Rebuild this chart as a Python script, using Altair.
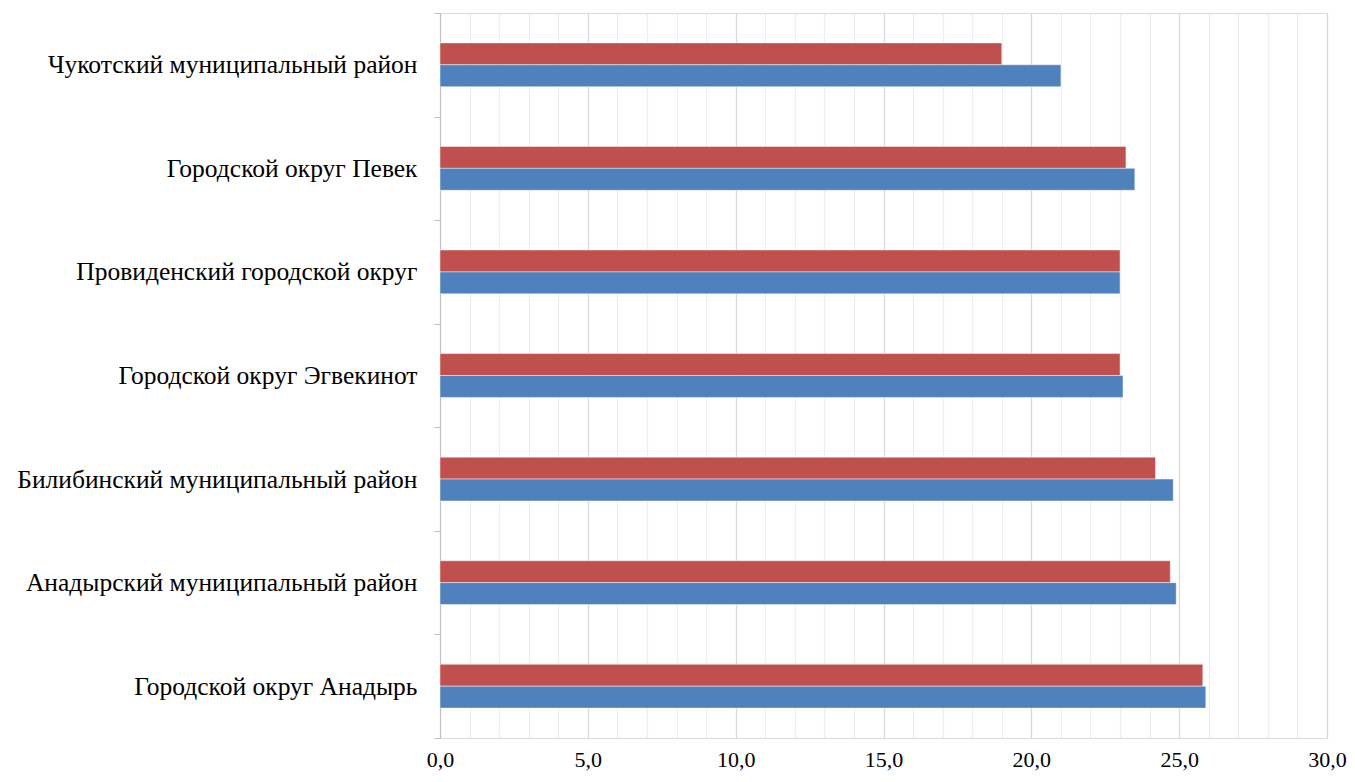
import altair as alt
import pandas as pd

categories = [
    "Чукотский муниципальный район",
    "Городской округ Певек",
    "Провиденский городской округ",
    "Городской округ Эгвекинот",
    "Билибинский муниципальный район",
    "Анадырский муниципальный район",
    "Городской округ Анадырь",
]
series_names = ["Ряд 2", "Ряд 1"]  # red (top), blue (bottom)
red_values = [19.0, 23.2, 23.0, 23.0, 24.2, 24.7, 25.8]
blue_values = [21.0, 23.5, 23.0, 23.1, 24.8, 24.9, 25.9]
colors = ["#C0504D", "#4F81BD"]
x_ticks = list(range(0, 31))

rows = []
for c, r, b in zip(categories, red_values, blue_values):
    rows.append({"category": c, "series": series_names[0], "value": r})
    rows.append({"category": c, "series": series_names[1], "value": b})
df = pd.DataFrame(rows)

FONT = "Liberation Serif"
offset_domain = ["_gap_top"] + series_names + ["_gap_bottom"]

chart = alt.Chart(df).mark_bar(
    stroke="white", strokeOpacity=0.45, strokeWidth=1
).encode(
    y=alt.Y(
        "category:N",
        sort=categories,
        scale=alt.Scale(paddingInner=0, paddingOuter=0),
        axis=alt.Axis(
            title=None,
            tickBand="extent",
            domainColor="#bfbfbf",
            tickColor="#bfbfbf",
            tickSize=6,
            labelPadding=17,
            labelFont=FONT,
            labelFontSize=25.5,
            labelColor="#000000",
            labelLimit=0,
            grid=False,
        ),
    ),
    yOffset=alt.YOffset(
        "series:N",
        scale=alt.Scale(domain=offset_domain, paddingInner=0, paddingOuter=0.364),
    ),
    x=alt.X(
        "value:Q",
        scale=alt.Scale(domain=[0, 30], nice=False, zero=True),
        axis=alt.Axis(
            title=None,
            values=x_ticks,
            labelExpr="datum.value % 5 === 0 ? replace(format(datum.value, '.1f'), '.', ',') : ''",
            labelFont=FONT,
            labelFontSize=22,
            labelColor="#000000",
            labelFlush=False,
            labelOverlap=False,
            labelPadding=11,
            ticks=False,
            domain=False,
            grid=True,
            gridColor={
                "condition": {"test": "datum.value % 5 === 0", "value": "#d9d9d9"},
                "value": "#eeeeee",
            },
            gridWidth=1.3,
        ),
    ),
    color=alt.Color(
        "series:N",
        scale=alt.Scale(domain=series_names, range=colors),
        legend=None,
    ),
).properties(
    width=887,
    height=725,
    autosize=alt.AutoSizeParams(type="none"),
    padding={"left": 432, "top": 5, "right": 20, "bottom": 36},
).configure_view(stroke=None).configure(background="white")

chart.save("out.html", embed_options={"renderer": "svg", "actions": False})
